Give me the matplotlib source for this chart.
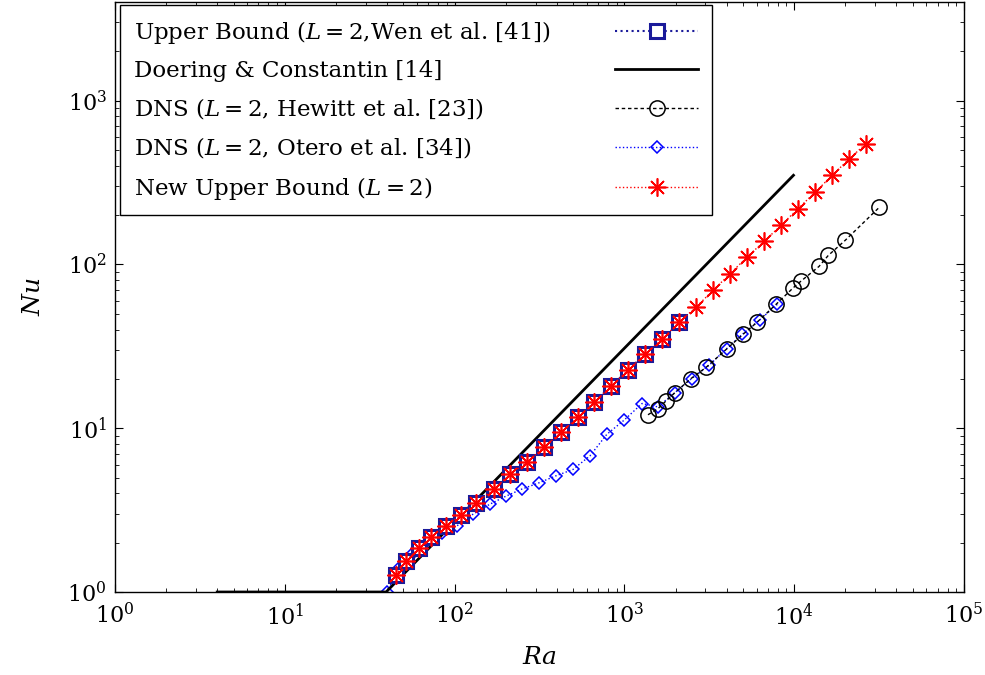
import matplotlib
matplotlib.use("Agg")
import matplotlib.pyplot as plt
from matplotlib.ticker import LogLocator, NullFormatter

plt.rcParams['font.family'] = ['DejaVu Serif']
plt.rcParams['mathtext.fontset'] = 'dejavuserif'

# ---- data ----
# Upper bound (Wen et al.)
wen_ra = [45.2, 51.7, 61.7, 72.6, 88.9, 109, 133.6, 170.6, 212, 267, 336, 423,
          533, 662, 834, 1050, 1322, 1665, 2097]
wen_nu = [1.27, 1.545, 1.855, 2.165, 2.53, 2.95, 3.49, 4.25, 5.24, 6.21, 7.66,
          9.45, 11.67, 14.4, 18.0, 22.6, 28.3, 34.9, 44.3]

# Doering & Constantin
dc_ra = [4.0, 39.5, 9900]
dc_nu = [1.0, 1.0, 350]

# DNS Hewitt et al.
hew_ra = [1377, 1578, 1758, 1986, 2467, 3025, 4021, 4992, 6035, 7812, 9886,
          10970, 14000, 15880, 19930, 31760]
hew_nu = [12.08, 13.18, 14.67, 16.5, 20.1, 23.5, 30.6, 37.4, 44.3, 57.0, 72.1,
          79.1, 97.2, 113.5, 140, 223.5]

# DNS Otero et al.
ote_ra = [40, 47, 56, 68.7, 84.3, 103, 128, 161.6, 201, 249, 314, 395, 498,
          627, 789, 995, 1270, 1571, 1986, 2490, 3150, 4000, 4943, 6290, 7950]
ote_nu = [1.0, 1.4, 1.7, 2.0, 2.28, 2.53, 2.98, 3.44, 3.85, 4.25, 4.64, 5.12,
          5.6, 6.78, 9.19, 11.19, 14.15, 13.5, 16.5, 20.1, 24.2, 30.6, 37.4,
          46.0, 57.0]

# New upper bound
new_ra = wen_ra + [2642, 3326, 4187, 5272, 6638, 8357, 10520, 13245, 16700,
                   21000, 26480]
new_nu = wen_nu + [54.9, 69.4, 87.6, 110.8, 138, 173, 218.6, 275, 349, 439, 547]

labels = [r"Upper Bound ($L = 2$,Wen et al. [41])",
          "Doering & Constantin [14]",
          r"DNS ($L = 2$, Hewitt et al. [23])",
          r"DNS ($L = 2$, Otero et al. [34])",
          r"New Upper Bound ($L = 2$)"]

# ---- figure ----
DPI = 100
fig = plt.figure(figsize=(9.85, 6.75), dpi=DPI)
ax = fig.add_axes([115/985, 1-592/675, (964-115)/985, 590/675])

h_ote, = ax.plot(ote_ra, ote_nu, linestyle=':', color='#0000ff', lw=1.0,
                 marker='D', ms=6.5, mfc='none', mec='#0000ff', mew=1.1, zorder=2)
h_hew, = ax.plot(hew_ra, hew_nu, linestyle=(0, (2.5, 2.0)), color='black', lw=1.0,
                 marker='o', ms=11, mfc='none', mec='black', mew=1.1, zorder=3)
h_dc, = ax.plot(dc_ra, dc_nu, linestyle='-', color='black', lw=2.0, zorder=4)
h_wen, = ax.plot(wen_ra, wen_nu, linestyle=':', color='#1a1a9a', lw=1.5,
                 marker='s', ms=10.5, mfc='white', mec='#1a1a9a', mew=2.2, zorder=5)
h_new, = ax.plot(new_ra, new_nu, linestyle=':', color='#ff0000', lw=1.0,
                 marker=(8, 2, 0), ms=13, mec='#ff0000', mew=1.2, zorder=6)

ax.set_xscale('log')
ax.set_yscale('log')
ax.set_xlim(1, 1e5)
ax.set_ylim(1, 4000)

ax.xaxis.set_major_locator(LogLocator(base=10, numticks=10))
ax.yaxis.set_major_locator(LogLocator(base=10, numticks=10))
ax.xaxis.set_minor_locator(LogLocator(base=10, subs=range(2, 10), numticks=20))
ax.yaxis.set_minor_locator(LogLocator(base=10, subs=range(2, 10), numticks=20))
ax.xaxis.set_minor_formatter(NullFormatter())
ax.yaxis.set_minor_formatter(NullFormatter())

ax.tick_params(which='both', direction='in', top=True, right=True, labelsize=16)
ax.tick_params(which='major', length=6, width=0.8)
ax.tick_params(which='minor', length=3, width=0.6)
ax.tick_params(axis='x', pad=8)
ax.tick_params(axis='y', pad=6)
for s in ax.spines.values():
    s.set_linewidth(1.0)

ax.set_xlabel(r"$Ra$", fontsize=18, labelpad=12)
ax.set_ylabel(r"$Nu$", fontsize=18, labelpad=16)

FS = 16.5
BASE_SEP = 2.83  # in font-size units
leg = ax.legend([h_wen, h_dc, h_hew, h_ote, h_new], labels,
                loc='upper left', bbox_to_anchor=(0.006, 0.995),
                borderaxespad=0, markerfirst=False, fontsize=FS,
                handlelength=3.6, labelspacing=0.62, fancybox=False,
                framealpha=1, edgecolor='black', borderpad=0.6,
                handletextpad=BASE_SEP)
leg.get_frame().set_linewidth(1.0)

# left-align the label texts while keeping handles aligned on the right
fig.canvas.draw()
renderer = fig.canvas.get_renderer()
texts = leg.get_texts()
widths = [t.get_window_extent(renderer).width for t in texts]
maxw = max(widths)
rows = []
for col in leg._legend_handle_box.get_children():
    rows.extend(col.get_children())
for row, w in zip(rows, widths):
    row.sep = BASE_SEP * FS + (maxw - w) * 72.0 / DPI

fig.savefig("out.png", dpi=DPI)
